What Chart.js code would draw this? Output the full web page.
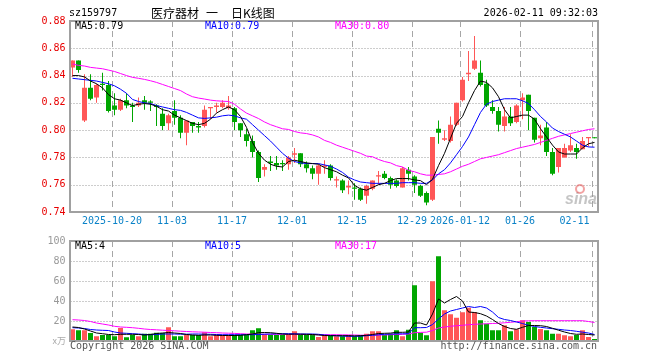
<!DOCTYPE html>
<html><head><meta charset="utf-8">
<script src="https://cdn.jsdelivr.net/npm/chart.js@4/dist/chart.umd.min.js"></script>
<style>
html,body{margin:0;padding:0;background:#fff;}
#wrap{position:relative;width:660px;height:360px;overflow:hidden;background:#fff;}
canvas{position:absolute;left:0;}
#c1{top:0;} #c2{top:230px;}
</style></head><body>
<div id="wrap"><canvas id="c1" width="660" height="230"></canvas><canvas id="c2" width="660" height="130"></canvas></div>
<script>
// ---------- data ----------
const dates = [
"2025-10-09","2025-10-10","2025-10-13","2025-10-14","2025-10-15","2025-10-16","2025-10-17","2025-10-20","2025-10-21","2025-10-22",
"2025-10-23","2025-10-24","2025-10-27","2025-10-28","2025-10-29","2025-10-30","2025-10-31","2025-11-03","2025-11-04","2025-11-05",
"2025-11-06","2025-11-07","2025-11-10","2025-11-11","2025-11-12","2025-11-13","2025-11-14","2025-11-17","2025-11-18","2025-11-19",
"2025-11-20","2025-11-21","2025-11-24","2025-11-25","2025-11-26","2025-11-27","2025-11-28","2025-12-01","2025-12-02","2025-12-03",
"2025-12-04","2025-12-05","2025-12-08","2025-12-09","2025-12-10","2025-12-11","2025-12-12","2025-12-15","2025-12-16","2025-12-17",
"2025-12-18","2025-12-19","2025-12-22","2025-12-23","2025-12-24","2025-12-25","2025-12-26","2025-12-29","2025-12-30","2025-12-31",
"2026-01-05","2026-01-06","2026-01-07","2026-01-08","2026-01-09","2026-01-12","2026-01-13","2026-01-14","2026-01-15","2026-01-16",
"2026-01-19","2026-01-20","2026-01-21","2026-01-22","2026-01-23","2026-01-26","2026-01-27","2026-01-28","2026-01-29","2026-01-30",
"2026-02-02","2026-02-03","2026-02-04","2026-02-05","2026-02-06","2026-02-09","2026-02-10","2026-02-11"];

const openP = [
0.846,0.851,0.807,0.831,0.824,0.834,0.833,0.818,0.815,0.822,
0.818,0.818,0.822,0.821,0.818,0.812,0.805,0.814,0.809,0.798,
0.806,0.803,0.803,0.816,0.817,0.817,0.816,0.816,0.805,0.797,
0.792,0.784,0.771,0.777,0.776,0.776,0.775,0.782,0.783,0.775,
0.772,0.768,0.773,0.774,0.763,0.763,0.758,0.758,0.757,0.752,
0.757,0.766,0.768,0.765,0.763,0.758,0.771,0.766,0.759,0.754,
0.749,0.801,0.793,0.792,0.804,0.822,0.841,0.845,0.842,0.834,
0.817,0.814,0.803,0.810,0.806,0.822,0.826,0.809,0.794,0.802,
0.784,0.773,0.780,0.785,0.787,0.786,0.794,0.794];
const highP = [
0.851,0.851,0.841,0.841,0.834,0.842,0.836,0.827,0.823,0.827,
0.820,0.824,0.825,0.822,0.819,0.816,0.812,0.822,0.811,0.807,
0.806,0.806,0.818,0.817,0.820,0.822,0.825,0.817,0.805,0.801,
0.796,0.785,0.775,0.781,0.781,0.778,0.781,0.787,0.783,0.777,
0.774,0.775,0.778,0.775,0.766,0.764,0.763,0.761,0.758,0.760,
0.763,0.770,0.770,0.766,0.764,0.773,0.773,0.767,0.760,0.755,
0.795,0.807,0.800,0.810,0.820,0.839,0.858,0.869,0.851,0.837,
0.822,0.817,0.817,0.817,0.819,0.827,0.826,0.809,0.804,0.806,
0.787,0.787,0.790,0.797,0.790,0.795,0.795,0.794];
const lowP = [
0.839,0.842,0.806,0.822,0.820,0.829,0.813,0.811,0.814,0.816,
0.806,0.817,0.815,0.814,0.803,0.800,0.800,0.804,0.794,0.789,
0.798,0.798,0.802,0.808,0.813,0.816,0.815,0.800,0.795,0.788,
0.780,0.762,0.766,0.770,0.771,0.770,0.771,0.776,0.773,0.769,
0.764,0.760,0.768,0.763,0.758,0.754,0.753,0.749,0.748,0.746,
0.756,0.760,0.764,0.757,0.758,0.758,0.763,0.754,0.751,0.745,
0.748,0.790,0.792,0.791,0.803,0.821,0.836,0.844,0.832,0.817,
0.812,0.799,0.799,0.803,0.805,0.808,0.800,0.791,0.789,0.781,
0.767,0.769,0.780,0.784,0.779,0.786,0.788,0.794];
const closeP = [
0.851,0.844,0.831,0.823,0.833,0.833,0.814,0.815,0.822,0.818,
0.817,0.820,0.820,0.820,0.817,0.803,0.811,0.809,0.798,0.807,
0.803,0.802,0.815,0.817,0.818,0.820,0.818,0.806,0.800,0.792,
0.784,0.765,0.773,0.776,0.774,0.775,0.780,0.783,0.775,0.772,
0.768,0.774,0.774,0.765,0.764,0.756,0.759,0.757,0.749,0.759,
0.763,0.767,0.765,0.760,0.759,0.772,0.768,0.760,0.752,0.747,
0.795,0.798,0.794,0.804,0.820,0.837,0.842,0.851,0.833,0.818,
0.814,0.804,0.810,0.805,0.818,0.824,0.814,0.793,0.796,0.784,
0.768,0.787,0.787,0.789,0.784,0.792,0.795,0.794];

const ma5 = [
0.840,0.840,0.839,0.836,0.834,0.831,0.826,0.823,0.822,0.820,
0.818,0.819,0.8195,0.819,0.8175,0.815,0.814,0.811,0.809,0.807,
0.805,0.804,0.805,0.808,0.8125,0.815,0.817,0.815,0.810,0.802,
0.791,0.783,0.778,0.775,0.7735,0.773,0.777,0.778,0.777,0.776,
0.7755,0.775,0.7725,0.771,0.7695,0.767,0.765,0.7595,0.757,0.756,
0.758,0.760,0.761,0.763,0.7645,0.7645,0.7645,0.7635,0.763,0.760,
0.764,0.774,0.783,0.794,0.805,0.810,0.820,0.829,0.836,0.835,
0.831,0.8245,0.815,0.809,0.810,0.811,0.811,0.808,0.801,0.795,
0.789,0.784,0.7825,0.7825,0.7825,0.787,0.790,0.791];
const ma10 = [
0.838,0.8375,0.837,0.8365,0.836,0.835,0.834,0.8325,0.830,0.827,
0.8225,0.821,0.820,0.8195,0.818,0.817,0.816,0.815,0.8145,0.813,
0.811,0.809,0.8086,0.809,0.8095,0.8105,0.811,0.8105,0.809,0.808,
0.804,0.800,0.796,0.792,0.7875,0.783,0.7795,0.777,0.776,0.7755,
0.7755,0.7755,0.7745,0.7735,0.7715,0.769,0.7655,0.7635,0.762,0.7615,
0.761,0.761,0.761,0.761,0.761,0.7615,0.7615,0.7615,0.761,0.761,
0.7635,0.768,0.771,0.776,0.782,0.788,0.795,0.804,0.813,0.819,
0.821,0.822,0.823,0.823,0.823,0.8215,0.8195,0.815,0.810,0.806,
0.8015,0.799,0.797,0.795,0.792,0.789,0.7877,0.7875];
const ma30 = [
0.8485,0.8475,0.847,0.846,0.8455,0.845,0.844,0.843,0.8415,0.840,
0.8387,0.838,0.8372,0.8362,0.835,0.8335,0.832,0.8305,0.829,0.8265,
0.8245,0.8235,0.8228,0.822,0.8215,0.8212,0.821,0.819,0.8155,0.8125,
0.8105,0.8085,0.806,0.804,0.8025,0.801,0.8005,0.799,0.798,0.7975,
0.7965,0.795,0.7925,0.791,0.789,0.7875,0.786,0.7845,0.783,0.781,
0.7805,0.7785,0.777,0.776,0.774,0.773,0.7705,0.7695,0.768,0.767,
0.767,0.7675,0.768,0.7695,0.7715,0.7735,0.775,0.777,0.779,0.780,
0.781,0.782,0.7835,0.785,0.7865,0.7875,0.7885,0.7895,0.791,0.7925,
0.794,0.7955,0.7965,0.7975,0.7985,0.7995,0.8005,0.801];

const volume = [
11.7,10.7,10.7,8,4.7,6,6,4.7,13,3.7,
6,4.7,7.3,7.3,8.3,8,13.7,4.7,4.7,6,
6,6,8.7,4.7,6,6,6,6,6,6,
10.7,12.7,7,6,6,6,6,9.7,6,6,
6,4,6,5.3,4.7,4.7,6,4.7,6,7.3,
9.7,9.7,6,7.3,10.7,4.7,11.3,55.7,8.3,5.7,
59.7,84.7,30.7,26.7,23.3,28.7,33.3,29,20.7,17.3,
10.7,10.7,15.7,9.7,11.7,20.7,19,14,12,10.7,
7.3,7.3,5.7,4.7,6,10.7,4,2];
const vma5 = [
14,13.5,12,10,8,7.3,6.5,6.3,6.7,6.7,
6.7,6.5,6,6.5,7.5,8,8.5,8,7.5,6.5,
6,5.7,6,6,5.7,5.5,5.5,5.5,5.7,6.3,
7,8.3,8.5,8.3,7.7,7,6.7,6.9,6.8,6.7,
6.5,6,5.5,5.3,5.3,5.3,5.3,5.1,5.3,5.7,
6.5,7.5,7.7,7.9,8.7,8.7,9,18,18,16,
27,42,38,41.5,44.5,40,29,28.5,27.3,25,
21.5,17.5,14.5,12.5,11.7,13.7,15.5,15.5,15.3,14.5,
12.7,10.8,9,7.5,6.7,7,6.5,6];
const vma10 = [
13.3,13,12.5,11.5,11,10.7,10.5,9,8,7.7,
7.3,7,6.5,6.3,6.5,7,7,7,6.8,6.8,
7,7,6.8,6.7,6.5,6.3,6.3,6.3,6.3,6.3,
6.3,6.5,6.8,7,7.2,7.3,7.3,7.2,7,7,
7,6.7,6,5.5,5.2,4.9,4.7,4.7,4.8,5.3,
5.7,6.2,6.7,6.9,7.1,7.2,7.3,13.3,13.3,13.5,
16.5,22,27,30,31.5,33,34.5,33.5,34.5,33,
29,23.5,21.5,20.5,19,17.5,15.7,14.5,13.7,13,
12.3,11.7,11,10.5,9.7,8.8,8,6.5];
const vma30 = [
21.3,21,20.5,19.5,18,17,16,14.7,14,13.7,
13.3,12.7,12,11.5,11.2,10.8,10.5,10.2,9.8,9.5,
9.2,9,8.8,8.5,8.3,8,7.8,7.6,7.3,7,
6.9,6.8,6.7,6.7,6.7,6.7,6.7,6.7,6.6,6.5,
6.4,6.3,6.3,6.3,6.3,6.2,6.1,6,5.8,5.8,
5.9,6,6.1,6.3,6.5,6.7,7,8.3,8.6,8.8,
10.5,13,14,14.7,15.3,15.7,16.3,16.7,17,17.2,
17.5,17.8,18.2,18.7,19.3,20,20.2,20.3,20.3,20.3,
20.3,20.3,20.3,20.3,20.3,20.3,19.5,18.5];

const tickDates = ["2025-10-20","2025-11-03","2025-11-17","2025-12-01","2025-12-15","2025-12-29","2026-01-12","2026-01-26","2026-02-11"];
const tickText  = ["2025-10-20","11-03","11-17","12-01","12-15","12-29","2026-01-12","01-26","02-11"];

const codeText = "sz159797";
const nameText = ["医疗器材", "一", "日K线图"];
const timeText = "2026-02-11 09:32:03";
const priceLegend = ["MA5:0.79", "MA10:0.79", "MA30:0.80"];
const volLegend = ["MA5:4", "MA10:5", "MA30:17"];
const volUnit = "x万";
const copyText = "Copyright 2026 SINA.COM";
const urlText = "http://finance.sina.com.cn";

// ---------- styling ----------
const RED = '#ff5757', GREEN = '#00a600';
const LEG_COLORS = ['#000000', '#0000ff', '#ff00ff'];
const MONO = '"DejaVu Sans Mono", "Liberation Mono", monospace';
const candleColors = closeP.map((c, i) => c > openP[i] ? RED : GREEN);
const tickIdx = tickDates.map(d => dates.indexOf(d));

Chart.defaults.font.family = MONO;

function drawGrid(chart, hValues) {
  const {ctx, chartArea: a, scales: {x, y}} = chart;
  ctx.save();
  ctx.lineWidth = 1;
  ctx.strokeStyle = '#9a9a9a';
  ctx.setLineDash([1, 2]);
  hValues.forEach(v => {
    const py = Math.round(y.getPixelForValue(v)) + 0.5;
    ctx.beginPath(); ctx.moveTo(a.left + 1, py); ctx.lineTo(a.right, py); ctx.stroke();
  });
  ctx.setLineDash([6, 4]);
  ctx.strokeStyle = '#a6a6a6';
  tickIdx.forEach(i => {
    const px = Math.round(x.getPixelForValue(i) - 2.5) + 0.5;
    ctx.beginPath(); ctx.moveTo(px, a.top); ctx.lineTo(px, a.bottom); ctx.stroke();
  });
  ctx.restore();
}
function drawBorder(chart) {
  const {ctx, chartArea: a} = chart;
  ctx.save();
  ctx.strokeStyle = '#a0a0a0';
  ctx.lineWidth = 2;
  ctx.strokeRect(Math.round(a.left), Math.round(a.top), Math.round(a.right) - Math.round(a.left), Math.round(a.bottom) - Math.round(a.top));
  ctx.restore();
}
function drawLegend(ctx, texts, y) {
  const xs = [75, 205, 335];
  ctx.save();
  ctx.font = '10px ' + MONO;
  ctx.textBaseline = 'middle';
  texts.forEach((t, k) => { ctx.fillStyle = LEG_COLORS[k]; ctx.fillText(t, xs[k], y); });
  ctx.restore();
}

const pricePlugin = {
  id: 'priceDecor',
  beforeDatasetsDraw(chart) {
    const y = chart.scales.y;
    const vals = y.ticks.map(t => t.value).filter(v => v > y.min + 1e-6 && v < y.max - 1e-6);
    drawGrid(chart, vals);
    // watermark
    const ctx = chart.ctx;
    ctx.save();
    ctx.font = 'italic bold 16px "Liberation Sans", Arial, sans-serif';
    ctx.fillStyle = 'rgba(150,150,150,0.55)';
    ctx.textBaseline = 'alphabetic';
    ctx.fillText('sina', 565, 204);
    ctx.strokeStyle = 'rgba(230,70,70,0.5)';
    ctx.lineWidth = 2;
    ctx.beginPath(); ctx.arc(580, 189, 4, 0, Math.PI * 2); ctx.stroke();
    ctx.restore();
  },
  afterDraw(chart) {
    drawBorder(chart);
    const {ctx, chartArea: a, scales: {x}} = chart;
    ctx.save();
    // header
    ctx.fillStyle = '#000';
    ctx.textBaseline = 'middle';
    ctx.font = '10px ' + MONO;
    ctx.textAlign = 'left';
    ctx.fillText(codeText, 69, 13);
    ctx.textAlign = 'right';
    ctx.fillText(timeText, 598, 13);
    ctx.textAlign = 'left';
    ctx.font = '12px "Noto Sans CJK SC"';
    ctx.fillText(nameText[0], 151, 13);
    ctx.fillText(nameText[1], 206, 13);
    ctx.fillText(nameText[2], 231, 13);
    // date labels
    ctx.font = '10px ' + MONO;
    ctx.fillStyle = '#0a82c8';
    ctx.textAlign = 'center';
    tickIdx.forEach((i, k) => {
      let cx = Math.round(x.getPixelForValue(i) - 2.5);
      const w = ctx.measureText(tickText[k]).width;
      if (cx + w / 2 > a.right - 8) cx = a.right - 8 - w / 2;
      ctx.fillText(tickText[k], cx, 221.5);
    });
    ctx.restore();
    drawLegend(ctx, priceLegend, 26.5);
  }
};

const volPlugin = {
  id: 'volDecor',
  beforeDatasetsDraw(chart) {
    const y = chart.scales.y;
    const vals = y.ticks.map(t => t.value).filter(v => v > y.min && v < y.max);
    drawGrid(chart, vals);
  },
  afterDraw(chart) {
    drawBorder(chart);
    const {ctx} = chart;
    ctx.save();
    ctx.textBaseline = 'middle';
    ctx.font = '9px "Noto Sans CJK SC"';
    ctx.fillStyle = '#aaaaaa';
    ctx.textAlign = 'right';
    ctx.fillText(volUnit, 66, 110.5);
    ctx.font = '10px ' + MONO;
    ctx.fillStyle = '#555';
    ctx.textAlign = 'left';
    ctx.fillText(copyText, 70, 116.5);
    ctx.textAlign = 'right';
    ctx.fillText(urlText, 597, 116.5);
    ctx.restore();
    drawLegend(ctx, volLegend, 16);
  }
};

const lineDs = (data, color) => ({type: 'line', data, borderColor: color, borderWidth: 1, pointRadius: 0, tension: 0, fill: false, order: 0});

new Chart(document.getElementById('c1'), {
  type: 'bar',
  data: {
    labels: dates,
    datasets: [
      lineDs(ma5, LEG_COLORS[0]),
      lineDs(ma10, LEG_COLORS[1]),
      lineDs(ma30, LEG_COLORS[2]),
      {type: 'bar', data: dates.map((d, i) => [openP[i], closeP[i]]), backgroundColor: candleColors,
       barThickness: 5, minBarLength: 1, grouped: false, inflateAmount: 0, borderWidth: 0, order: 2},
      {type: 'bar', data: dates.map((d, i) => [lowP[i], highP[i]]), backgroundColor: candleColors,
       barThickness: 1, minBarLength: 1, grouped: false, inflateAmount: 0, borderWidth: 0, order: 3}
    ]
  },
  options: {
    responsive: false, animation: false, events: [],
    layout: {padding: {left: 0, right: 62.5, top: 21, bottom: 18}},
    plugins: {legend: {display: false}, tooltip: {enabled: false}},
    scales: {
      x: {type: 'category', offset: true, display: false},
      y: {min: 0.74, max: 0.88,
          ticks: {stepSize: 0.02, color: '#e80000', font: {family: MONO, size: 10}, padding: 4,
                  callback: v => Number(v).toFixed(2)},
          grid: {display: false, drawTicks: false}, border: {display: false},
          afterFit(s) { s.width = 69.5; }}
    }
  },
  plugins: [pricePlugin]
});

new Chart(document.getElementById('c2'), {
  type: 'bar',
  data: {
    labels: dates,
    datasets: [
      lineDs(vma5, LEG_COLORS[0]),
      lineDs(vma10, LEG_COLORS[1]),
      lineDs(vma30, LEG_COLORS[2]),
      {type: 'bar', data: volume, backgroundColor: candleColors, barThickness: 5, grouped: false,
       inflateAmount: 0, borderWidth: 0, order: 2}
    ]
  },
  options: {
    responsive: false, animation: false, events: [],
    layout: {padding: {left: 0, right: 62.5, top: 11, bottom: 19}},
    plugins: {legend: {display: false}, tooltip: {enabled: false}},
    scales: {
      x: {type: 'category', offset: true, display: false},
      y: {min: 0, max: 100,
          ticks: {stepSize: 20, color: '#999999', font: {family: MONO, size: 10}, padding: 4,
                  callback: v => v === 0 ? '' : String(v)},
          grid: {display: false, drawTicks: false}, border: {display: false},
          afterFit(s) { s.width = 69.5; }}
    }
  },
  plugins: [volPlugin]
});
</script>
</body></html>
